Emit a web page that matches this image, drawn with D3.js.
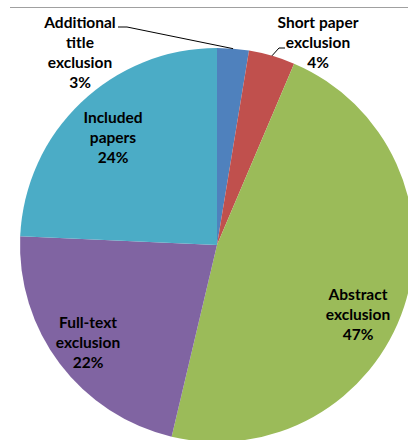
<!DOCTYPE html>
<html>
<head>
<meta charset="utf-8">
<script src="https://cdn.jsdelivr.net/npm/d3@7"></script>
<style>
  body { margin: 0; background: #fff; }
  svg { display: block; }
  text { font-family: Lato, "Open Sans", sans-serif; font-weight: bold; font-size: 15.5px; fill: #000; }
</style>
</head>
<body>
<div id="chart"></div>
<script>
// DATA
const categories = [
  ["Additional", "title", "exclusion"],
  ["Short paper", "exclusion"],
  ["Abstract", "exclusion"],
  ["Full-text", "exclusion"],
  ["Included", "papers"],
];
const shares = [2.6, 3.8, 47.3, 22.0, 24.3];
const pctLabels = ["3%", "4%", "47%", "22%", "24%"];
const colors = ["#4F81BD", "#C0504D", "#9BBB59", "#8064A2", "#4BACC6"];

// label layout (text block centre, first line), leader flag
const labelLayout = [
  { x: 80, y: 23, leader: "left" },
  { x: 318, y: 23, leader: "right" },
  { x: 358, y: 295 },
  { x: 88, y: 323 },
  { x: 113, y: 118 },
];

const width = 408,
  height = 440,
  cx = 217,
  cy = 245,
  radius = 197,
  lineH = 20;

const svg = d3
  .select("#chart")
  .append("svg")
  .attr("width", width)
  .attr("height", height);

// top rule
svg
  .append("line")
  .attr("x1", 10)
  .attr("x2", width)
  .attr("y1", 7.5)
  .attr("y2", 7.5)
  .attr("stroke", "#a0a0a0")
  .attr("stroke-width", 1.2);

const pie = d3
  .pie()
  .sort(null)
  .value((d) => d);

const arcs = pie(shares);

const arc = d3.arc().innerRadius(0).outerRadius(radius);

const g = svg.append("g").attr("transform", `translate(${cx},${cy})`);

g.selectAll("path")
  .data(arcs)
  .join("path")
  .attr("d", arc)
  .attr("fill", (d, i) => colors[i]);

// leader lines for the small slices
const edgePoint = (d) => {
  const a = (d.startAngle + d.endAngle) / 2;
  return [cx + radius * Math.sin(a), cy - radius * Math.cos(a)];
};

arcs.forEach((d, i) => {
  const lay = labelLayout[i];
  if (!lay.leader) return;
  const [ex, ey] = edgePoint(d);
  let pts;
  if (lay.leader === "left") {
    const sx = 118, sy = lay.y + 4;
    pts = [[sx, sy], [sx + 9, sy], [ex, ey]];
  } else {
    const sx = 285, sy = lay.y + lineH + 5;
    pts = [[sx, sy], [sx - 6, sy], [ex, ey]];
  }
  svg
    .append("path")
    .attr("d", d3.line()(pts))
    .attr("fill", "none")
    .attr("stroke", "#000")
    .attr("stroke-width", 1);
});

// labels
const labels = svg
  .selectAll("text.lbl")
  .data(arcs)
  .join("text")
  .attr("class", "lbl")
  .attr("text-anchor", "middle");

labels.each(function (d, i) {
  const lay = labelLayout[i];
  const lines = categories[i].concat([pctLabels[i]]);
  d3.select(this)
    .selectAll("tspan")
    .data(lines)
    .join("tspan")
    .attr("x", lay.x)
    .attr("y", (t, k) => lay.y + k * lineH)
    .attr("dy", "0.35em")
    .text((t) => t);
});
</script>
</body>
</html>
